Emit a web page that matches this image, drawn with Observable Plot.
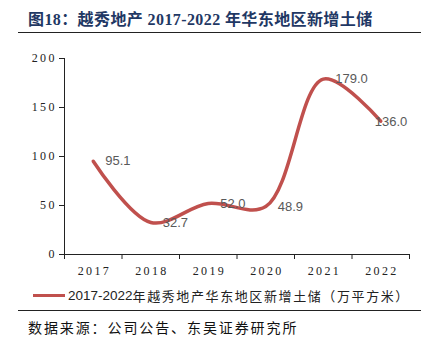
<!DOCTYPE html>
<html><head><meta charset="utf-8">
<script src="https://cdn.jsdelivr.net/npm/d3@7"></script>
<script src="https://cdn.jsdelivr.net/npm/@observablehq/plot@0.6"></script>
<style>
body{margin:0;background:#fff;width:430px;height:351px;overflow:hidden;position:relative;font-family:"Noto Sans CJK SC",sans-serif;}
#title{position:absolute;left:28px;top:6px;font-family:"Liberation Serif","Noto Sans CJK SC",serif;font-weight:bold;font-size:16px;letter-spacing:0.4px;color:#1F3864;white-space:nowrap;}
#rule1{position:absolute;left:18px;top:32px;width:403px;height:0;border-top:1.5px solid #222;}
#chart{position:absolute;left:0;top:40px;}
#legend{position:absolute;left:33px;top:286px;font-size:13px;color:#222;white-space:nowrap;display:flex;align-items:center;}
#legend span.sw{display:inline-block;width:32px;height:3px;background:#C0504D;margin-right:3px;}
#legend span.lt{font-family:"Liberation Sans",sans-serif;font-size:13.5px;}
#legend span.ct{letter-spacing:1.6px;}
#rule2{position:absolute;left:18px;top:310px;width:403px;border-top:1px solid #222;}
#source{position:absolute;left:28px;top:317px;font-size:14px;letter-spacing:1.9px;color:#111;white-space:nowrap;}
</style></head>
<body>
<div id="title">图18：越秀地产 2017-2022 年华东地区新增土储</div>
<div id="rule1"></div>
<div id="chart"></div>
<div id="legend"><span class="sw"></span><span class="lt">2017-2022</span><span class="ct">年越秀地产华东地区新增土储（万平方米）</span></div>
<div id="rule2"></div>
<div id="source">数据来源：公司公告、东吴证券研究所</div>
<script>
const years = [2017, 2018, 2019, 2020, 2021, 2022];
const values = [95.1, 32.7, 52.0, 48.9, 179.0, 136.0];
const yTicks = [0, 50, 100, 150, 200];
const data = years.map((y, i) => ({year: y, value: values[i]}));
const boundaries = d3.range(years.length + 1).map(i => years[0] - 0.5 + i);
const last = years[years.length - 1];

const chart = Plot.plot({
  width: 430,
  height: 245,
  marginLeft: 64,
  marginRight: 21,
  marginTop: 18,
  marginBottom: 31,
  style: {fontFamily: "'Liberation Serif', serif", fontSize: "12px", color: "#222", background: "transparent"},
  x: {type: "linear", domain: [years[0] - 0.5, last + 0.5]},
  y: {domain: [0, 200]},
  marks: [
    Plot.axisY({ticks: yTicks, tickSize: 5, tickPadding: 5, tickFormat: d => String(d).split("").join("\u2009"), label: null, fontSize: 12}),
    Plot.axisX({ticks: boundaries, tickSize: 5, tickFormat: () => "", label: null}),
    Plot.axisX({ticks: years, tickSize: 0, tickPadding: 12, tickFormat: d => String(d).split("").join("\u2009"), label: null, fontSize: 12}),
    Plot.ruleY([0], {stroke: "#222"}),
    Plot.ruleX([years[0] - 0.5], {stroke: "#222"}),
    Plot.line(data, {x: "year", y: "value", stroke: "#C0504D", strokeWidth: 3.5, curve: "catmull-rom"}),
    Plot.text(data.filter(d => d.year !== last), {x: "year", y: "value", text: d => d.value.toFixed(1), textAnchor: "start", dx: 12, fill: "#595959", fontSize: 13, fontFamily: "'Liberation Sans', sans-serif"}),
    Plot.text(data.filter(d => d.year === last), {x: "year", y: "value", text: d => d.value.toFixed(1), textAnchor: "start", dx: -6, dy: 1, fill: "#595959", fontSize: 13, fontFamily: "'Liberation Sans', sans-serif"})
  ]
});
document.getElementById("chart").appendChild(chart);
</script>
</body></html>
